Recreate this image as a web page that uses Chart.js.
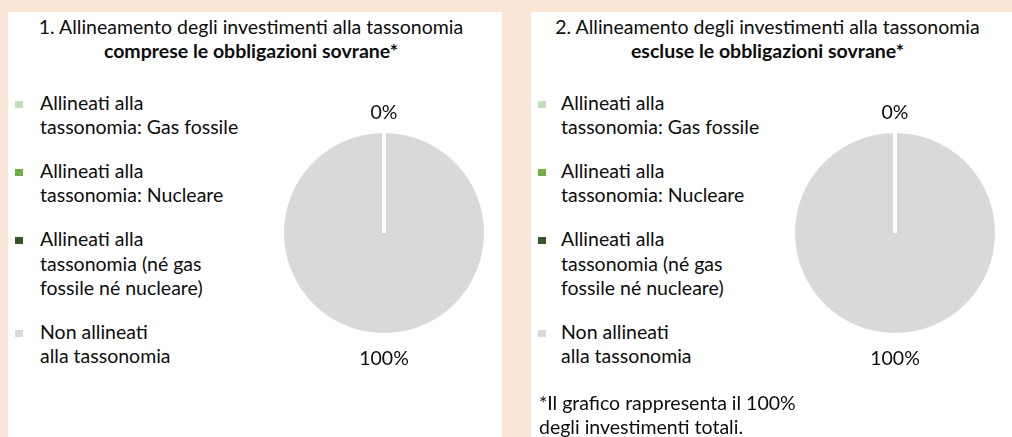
<!DOCTYPE html>
<html>
<head>
<meta charset="utf-8">
<script src="https://cdn.jsdelivr.net/npm/chart.js@4.4.1/dist/chart.umd.min.js"></script>
<style>
  html, body { margin: 0; padding: 0; }
  body {
    width: 1012px; height: 437px; overflow: hidden; position: relative;
    background: #fbe5d6; color: #0d0d0d;
    font-family: Lato, "Open Sans", sans-serif; font-size: var(--fs, 19px);
  }
  .panel { position: absolute; top: 12px; height: 425px; background: #ffffff; }
  #p1 { left: 8px; width: 494px; }
  #p2 { left: 531px; width: 481px; }
  .title { position: absolute; left: 0; right: 8px; top: 3px; text-align: center; line-height: 24px; white-space: nowrap; }
  .title .l2 { font-weight: 700; }
  .legend { position: absolute; top: 78.7px; }
  #p1 .legend { left: 32px; }
  #p2 .legend { left: 30px; }
  .item { position: relative; line-height: 24.6px; margin-bottom: 19px; white-space: nowrap; }
  .sw { position: absolute; width: 8px; height: 7px; top: 10px; }
  #p1 .sw { left: -25px; }
  #p2 .sw { left: -23px; }
  .note { position: absolute; left: 8px; top: 378.7px; line-height: 24.6px; white-space: nowrap; }
  canvas { position: absolute; top: 61px; }
  #c1 { left: 256px; }
  #c2 { left: 244px; }
</style>
</head>
<body>
<div class="panel" id="p1">
  <div class="title" id="t1"></div>
  <div class="legend" id="lg1"></div>
  <canvas id="c1" width="240" height="320"></canvas>
</div>
<div class="panel" id="p2">
  <div class="title" id="t2"></div>
  <div class="legend" id="lg2"></div>
  <canvas id="c2" width="240" height="320"></canvas>
  <div class="note" id="note"></div>
</div>
<script>
// ---- data ----
const categories = [
  ["Allineati alla", "tassonomia: Gas fossile"],
  ["Allineati alla", "tassonomia: Nucleare"],
  ["Allineati alla", "tassonomia (né gas", "fossile né nucleare)"],
  ["Non allineati", "alla tassonomia"]
];
const sliceColors = ["#c5e0b4", "#70ad47", "#375623", "#d9d9d9"];
const valuesWithSovereign = [0, 0, 0, 100];
const valuesWithoutSovereign = [0, 0, 0, 100];
const title1 = ["1. Allineamento degli investimenti alla tassonomia", "comprese le obbligazioni sovrane*"];
const title2 = ["2. Allineamento degli investimenti alla tassonomia", "escluse le obbligazioni sovrane*"];
const footnote = ["*Il grafico rappresenta il 100%", "degli investimenti totali."];

// ---- font calibration (substitute for Calibri) ----
const FONT = 'Lato, "Open Sans", sans-serif';
const mctx = document.createElement('canvas').getContext('2d');
mctx.font = '100px ' + FONT;
const fs = 100 * 425 / mctx.measureText(title1[0]).width;
document.body.style.setProperty('--fs', fs.toFixed(2) + 'px');

function fillTitle(el, lines) {
  el.innerHTML = '';
  lines.forEach((t, i) => {
    const d = document.createElement('div');
    d.className = 'l' + (i + 1);
    d.textContent = t;
    el.appendChild(d);
  });
}
function fillLegend(el) {
  categories.forEach((lines, i) => {
    const it = document.createElement('div');
    it.className = 'item';
    const sw = document.createElement('span');
    sw.className = 'sw';
    sw.style.background = sliceColors[i];
    it.appendChild(sw);
    lines.forEach((t, j) => {
      if (j) it.appendChild(document.createElement('br'));
      it.appendChild(document.createTextNode(t));
    });
    el.appendChild(it);
  });
}
fillTitle(document.getElementById('t1'), title1);
fillTitle(document.getElementById('t2'), title2);
fillLegend(document.getElementById('lg1'));
fillLegend(document.getElementById('lg2'));
(function () {
  const n = document.getElementById('note');
  footnote.forEach((t, j) => {
    if (j) n.appendChild(document.createElement('br'));
    n.appendChild(document.createTextNode(t));
  });
})();

const BORDER = 4;
const pctLabels = {
  id: 'pctLabels',
  afterDatasetsDraw(chart) {
    const ctx = chart.ctx;
    const meta = chart.getDatasetMeta(0);
    const vals = chart.data.datasets[0].data;
    const seen = new Set();
    ctx.save();
    ctx.font = fs.toFixed(2) + 'px ' + FONT;
    ctx.fillStyle = '#0d0d0d';
    ctx.textAlign = 'center';
    ctx.textBaseline = 'middle';
    meta.data.forEach((arc, i) => {
      const p = arc.getProps(['x', 'y', 'startAngle', 'endAngle', 'outerRadius'], true);
      const a = (p.startAngle + p.endAngle) / 2;
      const r = p.outerRadius - BORDER / 2 + 23;
      const lx = p.x + Math.cos(a) * r;
      const ly = p.y + Math.sin(a) * r + 3;
      const txt = vals[i] + '%';
      const key = Math.round(lx) + ',' + Math.round(ly) + ',' + txt;
      if (seen.has(key)) return;
      seen.add(key);
      ctx.fillText(txt, lx, ly);
    });
    ctx.restore();
  }
};

function makePie(id, values) {
  return new Chart(document.getElementById(id), {
    type: 'pie',
    data: {
      labels: categories,
      datasets: [{
        data: values,
        backgroundColor: sliceColors,
        borderColor: '#ffffff',
        borderWidth: BORDER,
        radius: 100 + BORDER / 2
      }]
    },
    options: {
      responsive: false,
      animation: false,
      layout: { padding: 0 },
      plugins: { legend: { display: false }, tooltip: { enabled: false } }
    },
    plugins: [pctLabels]
  });
}
makePie('c1', valuesWithSovereign);
makePie('c2', valuesWithoutSovereign);
</script>
</body>
</html>
